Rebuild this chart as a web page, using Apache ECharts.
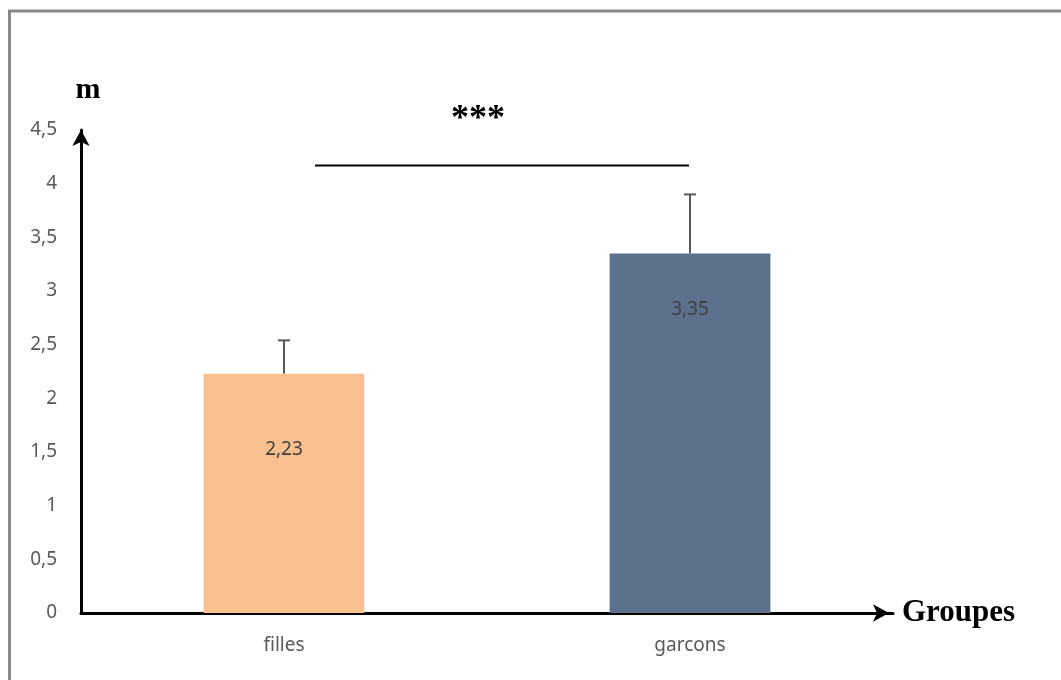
<!DOCTYPE html>
<html><head><meta charset="utf-8">
<script src="https://cdn.jsdelivr.net/npm/echarts@6/dist/echarts.min.js"></script>
<style>html,body{margin:0;padding:0;background:#fff}#c{width:1061px;height:680px}</style>
</head><body><div id="c"></div>
<script>
const categories = ['filles', 'garcons'];
const means = [2.23, 3.35];
const errorTops = [2.54, 3.90];
const labels = ['2,23', '3,35'];
const barColors = ['#F8C08F', '#5B718D'];
const yTicks = [0, 0.5, 1, 1.5, 2, 2.5, 3, 3.5, 4, 4.5];
const sigValue = 4.17;
const sigText = '***';
const yName = 'm';
const xName = 'Groupes';

const chart = echarts.init(document.getElementById('c'), null, {renderer: 'canvas'});
const fmt = v => String(v).replace('.', ',');
const labelDist = [66, 47];

const option = {
  animation: false,
  grid: {left: 81, width: 812, top: 130, bottom: 67, containLabel: false},
  xAxis: {
    type: 'category', data: categories,
    axisLine: {show: true, lineStyle: {color: '#000', width: 3}, symbol: ['none', 'arrow'], symbolSize: [13, 16], symbolOffset: [0, -4]},
    axisTick: {show: false},
    axisLabel: {color: '#595959', fontSize: 19, fontFamily: 'Noto Sans', margin: 23},
  },
  yAxis: {
    type: 'value', min: 0, max: 4.5, interval: 0.5,
    axisLine: {show: true, lineStyle: {color: '#000', width: 3}, symbol: ['none', 'arrow'], symbolSize: [13, 16]},
    axisTick: {show: false},
    splitLine: {show: false},
    axisLabel: {color: '#595959', fontSize: 19, fontFamily: 'Noto Sans', margin: 24, formatter: v => fmt(v)},
  },
  series: [
    {
      type: 'bar', barWidth: '39.6%', z: 2,
      data: means.map((v, i) => ({
        value: v,
        itemStyle: {color: barColors[i]},
        label: {show: true, position: 'insideTop', distance: labelDist[i], formatter: labels[i], color: '#404040', fontSize: 19, fontFamily: 'Noto Sans'}
      }))
    },
    {
      type: 'custom', z: 1,
      data: means.map((v, i) => [i, v, errorTops[i]]),
      renderItem: (params, api) => {
        const base = api.coord([api.value(0), api.value(1)]);
        const top = api.coord([api.value(0), api.value(2)]);
        const style = {stroke: '#595959', lineWidth: 2};
        return {type: 'group', children: [
          {type: 'line', shape: {x1: base[0], y1: base[1], x2: top[0], y2: top[1]}, style},
          {type: 'line', shape: {x1: top[0] - 6, y1: top[1], x2: top[0] + 6, y2: top[1]}, style}
        ]};
      }
    }
  ]
};
chart.setOption(option);

const p0 = chart.convertToPixel({gridIndex: 0}, [0, sigValue]);
const p1 = chart.convertToPixel({gridIndex: 0}, [1, sigValue]);
const yTop = chart.convertToPixel({gridIndex: 0}, [0, 4.5]);
const yZero = chart.convertToPixel({gridIndex: 0}, [1, 0]);
chart.setOption({
  graphic: [
    {type: 'rect', shape: {x: 9.5, y: 11, width: 1200, height: 800}, style: {fill: 'none', stroke: '#878787', lineWidth: 3}, silent: true},
    {type: 'line', shape: {x1: p0[0] + 31, y1: p0[1], x2: p1[0] - 1, y2: p1[1]}, style: {stroke: '#000', lineWidth: 2}},
    {type: 'text', x: 478, y: p0[1] - 46, style: {text: sigText, fill: '#000', font: 'bold 36px "Liberation Serif"', align: 'center', verticalAlign: 'middle'}},
    {type: 'text', x: 88, y: yTop[1] - 40, style: {text: yName, fill: '#000', font: 'bold 30px "Liberation Serif"', align: 'center', verticalAlign: 'middle'}},
    {type: 'text', x: 902, y: yZero[1], style: {text: xName, fill: '#000', font: 'bold 31px "Liberation Serif"', align: 'left', verticalAlign: 'middle'}}
  ]
});
</script></body></html>
